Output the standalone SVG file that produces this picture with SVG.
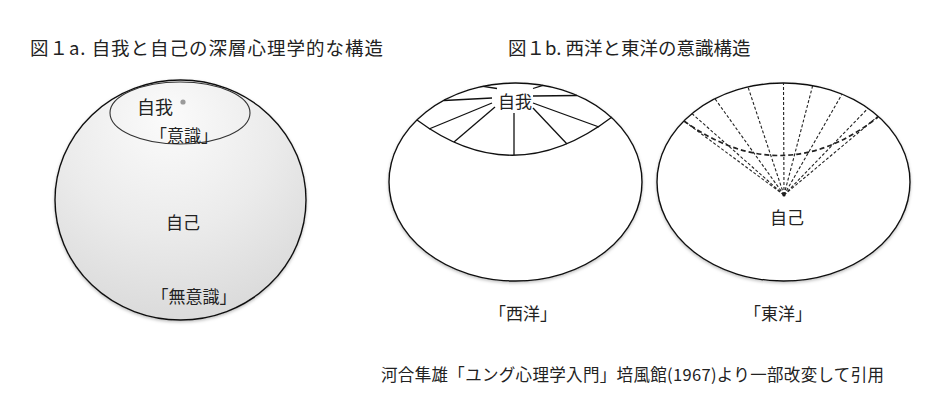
<svg xmlns="http://www.w3.org/2000/svg" width="948" height="409" viewBox="0 0 948 409">
  <style>
    text { font-family: "Noto Sans CJK JP", "Noto Sans", sans-serif; fill: #222; }
    .title { font-size: 18.5px; }
    .lbl { font-size: 17px; text-anchor: middle; }
    .outline { stroke: #111; stroke-width: 1.4; }
    .ray { stroke: #111; stroke-width: 1.3; fill: none; }
    .dray { stroke: #222; stroke-width: 1.1; stroke-dasharray: 3 2; fill: none; }
    .dcap { stroke: #222; stroke-width: 1.7; stroke-dasharray: 5 3; fill: none; }
  </style>
  <defs>
    <radialGradient id="sphereGrad" cx="0.45" cy="0.25" r="0.85" fx="0.45" fy="0.15">
      <stop offset="0" stop-color="#fbfbfb"/>
      <stop offset="0.5" stop-color="#ebebeb"/>
      <stop offset="1" stop-color="#d6d6d6"/>
    </radialGradient>
    <filter id="shadow" x="-10%" y="-10%" width="120%" height="125%">
      <feDropShadow dx="0" dy="1.5" stdDeviation="1.5" flood-color="#000" flood-opacity="0.25"/>
    </filter>
  </defs>
  <rect width="948" height="409" fill="#ffffff"/>

  <g id="titles">
    <text class="title" x="30" y="55" textLength="353" lengthAdjust="spacing">図１a. 自我と自己の深層心理学的な構造</text>
    <text class="title" x="508" y="55">図１b. 西洋と東洋の意識構造</text>
  </g>

  <!-- Figure 1a -->
  <g id="node-self-sphere">
    <ellipse cx="180.5" cy="200" rx="125.5" ry="120" fill="url(#sphereGrad)" class="outline" filter="url(#shadow)"/>
    <text class="lbl" x="183" y="229">自己</text>
    <text class="lbl" x="194" y="303">「無意識」</text>
  </g>
  <g id="node-ego-a">
    <ellipse cx="180" cy="113" rx="70" ry="31" fill="none" stroke="#333" stroke-width="1.1"/>
    <circle cx="183" cy="102" r="2.6" fill="#9a9a9a"/>
    <text class="lbl" x="155" y="114" style="font-size:18px">自我</text>
    <text class="lbl" x="184" y="142">「意識」</text>
  </g>

  <!-- Figure 1b West -->
  <g id="node-west">
    <ellipse cx="515.5" cy="182" rx="126.5" ry="99" fill="#fff" class="outline" filter="url(#shadow)"/>
    <path d="M417,120 Q514,192 612,117" class="ray"/>
    <text class="lbl" x="515" y="108">自我</text>
    <text class="lbl" x="523" y="320">「西洋」</text>
  </g>

  <!-- Figure 1b East -->
  <g id="node-east">
    <ellipse cx="783.5" cy="182" rx="126.5" ry="99" fill="#fff" class="outline" filter="url(#shadow)"/>
    <path d="M684,121 Q783,192 878,117" class="dcap"/>
    <circle cx="784" cy="195" r="1.6" fill="#111"/>
    <text class="lbl" x="787" y="224">自己</text>
    <text class="lbl" x="778" y="320">「東洋」</text>
  </g>

  <g id="connectors">
    <!-- West: solid rays from ego -->
    <line class="ray" x1="444" y1="100.5" x2="492" y2="98"/>
    <line class="ray" x1="483" y1="86.3" x2="497" y2="88.5"/>
    <line class="ray" x1="533" y1="88.5" x2="543" y2="85.4"/>
    <line class="ray" x1="533" y1="96" x2="577" y2="95.5"/>
    <line class="ray" x1="429" y1="129" x2="492" y2="103"/>
    <line class="ray" x1="454" y1="142" x2="495" y2="107"/>
    <line class="ray" x1="514" y1="113" x2="514" y2="155"/>
    <line class="ray" x1="533" y1="108" x2="567" y2="144"/>
    <line class="ray" x1="533" y1="103" x2="599" y2="127"/>
    <!-- East: dashed rays from self -->
    <line class="dray" x1="784" y1="195" x2="684" y2="121"/>
    <line class="dray" x1="784" y1="195" x2="692" y2="113.6"/>
    <line class="dray" x1="784" y1="195" x2="715" y2="98.8"/>
    <line class="dray" x1="784" y1="195" x2="748" y2="87"/>
    <line class="dray" x1="784" y1="195" x2="783.5" y2="83"/>
    <line class="dray" x1="784" y1="195" x2="813" y2="84.4"/>
    <line class="dray" x1="784" y1="195" x2="842" y2="94.2"/>
    <line class="dray" x1="784" y1="195" x2="868" y2="108.3"/>
    <line class="dray" x1="784" y1="195" x2="878" y2="116.2"/>
  </g>

  <g id="citation">
    <text x="381" y="381" style="font-size:16.5px" textLength="503" lengthAdjust="spacing">河合隼雄「ユング心理学入門」培風館(1967)より一部改変して引用</text>
  </g>
</svg>
